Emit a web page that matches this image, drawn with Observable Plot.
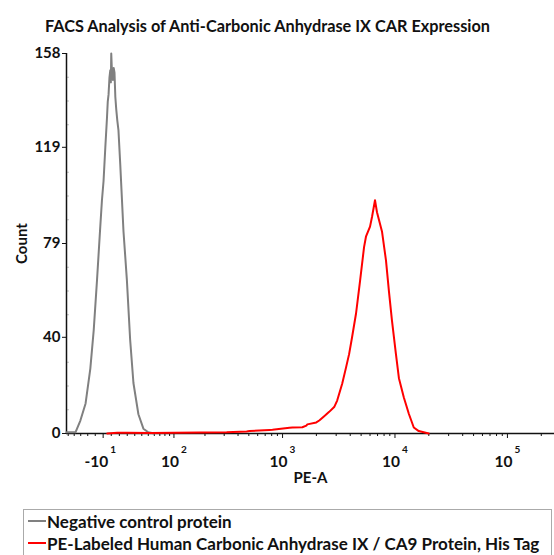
<!DOCTYPE html>
<html><head><meta charset="utf-8">
<script src="https://cdn.jsdelivr.net/npm/d3@7"></script>
<script src="https://cdn.jsdelivr.net/npm/@observablehq/plot@0.6"></script>
<style>
body{margin:0;background:#fff;font-family:Lato,"Open Sans",sans-serif;}
#wrap{position:relative;width:554px;height:555px;overflow:hidden;background:#fff;}
#title{position:absolute;left:0;width:535px;top:16px;text-align:center;font-weight:bold;font-size:16.3px;color:#111;}
#chart{position:absolute;left:0;top:40px;}
#legend{position:absolute;left:23px;top:509px;width:529px;height:60px;border:1px solid #aaa;box-sizing:border-box;font-weight:bold;font-size:17px;color:#111;padding-top:0px;}
.row{display:flex;align-items:center;height:22px;white-space:nowrap;}
.sw{width:18px;height:0;border-top:2px solid;margin-left:4px;margin-right:1px;}
</style></head>
<body><div id="wrap">
<div id="title">FACS Analysis of Anti-Carbonic Anhydrase IX CAR Expression</div>
<div id="chart"></div>
<div id="legend"></div>
</div>
<script>
// Negative control protein (gray)
const negPE = [-63, -48, -40.5, -33, -26.5, -22, -17.7, -13.6, -11.5, -9.5, -7.3, -5.3, -4.3, -3.3, -2.2, -1.2, -0.5, 0, 1.0, 2.1, 3.0, 4.0, 5.0, 6.1, 7.5, 8.9, 11.1, 15.2, 19.5, 23.8, 28.2, 35.1, 42.4, 50, 60];
const negCount = [0.5, 0.5, 5.4, 12.5, 27, 43, 64, 86, 97, 105, 119, 131, 138, 141, 148, 151, 146, 158, 149, 147, 152, 150, 140, 135, 130, 126, 112, 84, 64, 39, 21, 8, 2, 0.5, 0];
// PE-Labeled Human Carbonic Anhydrase IX / CA9 Protein, His Tag (red)
const posPE = [-4.9, 7.4, 19.9, 53, 102, 179, 316, 478, 508, 765, 813, 1152, 1224, 1500, 1628, 1662, 1997, 2121, 2348, 2600, 2880, 3062, 3392, 3678, 3909, 4154, 4509, 4896, 5310, 5531, 6000, 6248, 6643, 6920, 7664, 8318, 8843, 9399, 10200, 10842, 11994, 13280, 14700, 16275, 19965];
const posCount = [0, 0.3, 0.3, 0.2, 0.3, 0.4, 0.5, 0.8, 1.0, 1.5, 1.6, 2.4, 2.5, 2.6, 3.3, 3.8, 4.6, 5.4, 7.2, 9.0, 11, 13.7, 20.7, 27.6, 33, 40, 50, 63.6, 77.5, 82, 86, 90, 97, 92, 84, 72, 59, 47, 33, 23, 15, 8.2, 2.5, 1, 0];

const seriesNames = ["Negative control protein", "PE-Labeled Human Carbonic Anhydrase IX / CA9 Protein, His Tag"];
const seriesColors = ["#808080", "#ff0000"];

const xTickValues = [-10, 100, 1000, 10000, 100000];
const xTickBase = ["-10", "10", "10", "10", "10"];
const xTickExp = ["1", "2", "3", "4", "5"];
const yTickValues = [0, 40, 79, 119, 158];
const xDomainPE = [-63, 262144];
const yMax = 158;

// biexponential-like display transform of PE-A
const W = 60;
const T = v => Math.asinh(v / W);

const neg = negPE.map((v, i) => ({pe: v, count: negCount[i]}));
const pos = posPE.map((v, i) => ({pe: v, count: posCount[i]}));

const xMinorPE = [-60, -50, -40, -30, -20, 0, 10];
for (let n = 1; n <= 4; n++) for (let k = 2; k <= 9; k++) xMinorPE.push(k * Math.pow(10, n));
xMinorPE.push(200000);
const yMinor = d3.range(1, 16).filter(k => k % 4).map(k => k * yMax / 16);

const xTicks = xTickValues.map((v, i) => ({t: T(v), base: xTickBase[i], exp: xTickExp[i]}));
const font = "Lato, 'Open Sans', sans-serif";

const chart = Plot.plot({
  width: 554, height: 450,
  marginLeft: 66, marginRight: 0, marginTop: 13, marginBottom: 57,
  style: {fontFamily: font, background: "#fff", color: "#111"},
  x: {type: "linear", domain: xDomainPE.map(T)},
  y: {domain: [0, yMax]},
  marks: [
    Plot.axisY(yTickValues, {tickSize: 4, tickPadding: 2, fontSize: 15, fontWeight: "bold", label: "Count", labelAnchor: "center", labelArrow: "none", labelOffset: 50}),
    Plot.axisY(yMinor, {tickSize: 3, dx: 3, tickFormat: () => "", label: null, strokeOpacity: 0.25}),
    Plot.axisX(xMinorPE.map(T), {tickSize: 3, tickFormat: () => "", label: null}),
    Plot.axisX(xTicks.map(d => d.t), {tickSize: 5, tickFormat: () => "", fontSize: 15, fontWeight: "bold", label: "PE-A", labelAnchor: "center", labelArrow: "none", labelOffset: 49}),
    Plot.text(xTicks, {x: "t", text: "base", frameAnchor: "bottom", dy: 33, dx: 5, textAnchor: "end", lineAnchor: "bottom", fontSize: 15.5, fontWeight: "bold"}),
    Plot.text(xTicks, {x: "t", text: "exp", frameAnchor: "bottom", dy: 19, dx: 7, textAnchor: "start", lineAnchor: "bottom", fontSize: 10, fontWeight: "bold"}),
    Plot.ruleX([xDomainPE[0]].map(T), {y1: 0, y2: yMax, stroke: "#111", strokeWidth: 1.5}),
    Plot.ruleY([0], {stroke: "#111", strokeWidth: 1.5}),
    Plot.line(neg, {x: d => T(d.pe), y: "count", stroke: seriesColors[0], strokeWidth: 2}),
    Plot.line(pos, {x: d => T(d.pe), y: "count", stroke: seriesColors[1], strokeWidth: 2})
  ]
});
document.getElementById("chart").appendChild(chart);

const legend = document.getElementById("legend");
seriesNames.forEach((name, i) => {
  const row = document.createElement("div");
  row.className = "row";
  const sw = document.createElement("span");
  sw.className = "sw";
  sw.style.borderTopColor = seriesColors[i];
  const tx = document.createElement("span");
  tx.textContent = name;
  row.appendChild(sw); row.appendChild(tx);
  legend.appendChild(row);
});
</script>
</body></html>
